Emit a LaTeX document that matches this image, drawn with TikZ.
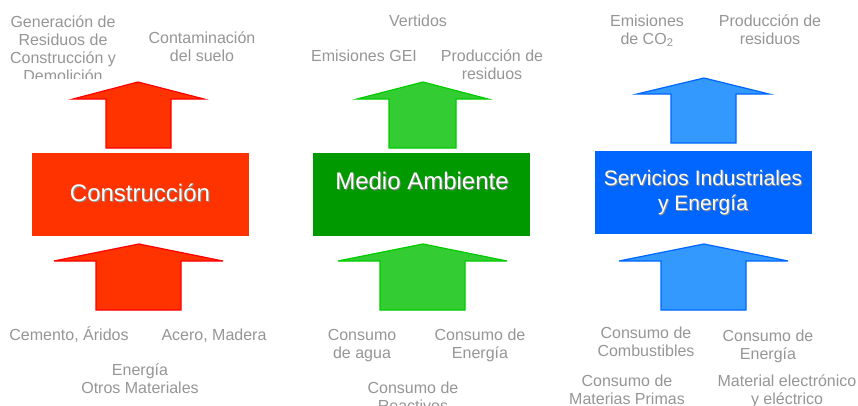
\documentclass[tikz,border=0pt]{standalone}
\usepackage{fontspec}
\setmainfont{Liberation Sans}
\definecolor{txtgray}{RGB}{150,150,150}
\definecolor{redfill}{RGB}{255,51,0}
\definecolor{redline}{RGB}{255,0,0}
\definecolor{greenfill}{RGB}{51,204,51}
\definecolor{greenline}{RGB}{0,204,0}
\definecolor{greenbox}{RGB}{0,153,0}
\definecolor{bluefill}{RGB}{51,153,255}
\definecolor{blueline}{RGB}{0,102,255}
\definecolor{bluebox}{RGB}{0,102,255}
\tikzset{
  lbl/.style={anchor=base, text=txtgray, inner sep=0pt, font=\fontsize{16}{18}\selectfont},
  sector/.style={draw=none, inner sep=0pt, minimum width=217pt, minimum height=83pt},
  boxtxt/.style={anchor=base, text=white, inner sep=0pt},
  boxshadow/.style={anchor=base, text=black!45, inner sep=0pt},
  redarrow/.style={fill=redfill, draw=redline, line width=1.2pt, line join=miter},
  greenarrow/.style={fill=greenfill, draw=greenline, line width=1.2pt, line join=miter},
  bluearrow/.style={fill=bluefill, draw=blueline, line width=1.2pt, line join=miter},
}
\begin{document}
\begin{tikzpicture}[x=1pt,y=-1pt]
\clip (0,0) rectangle (858,405);
\fill[white] (0,0) rectangle (858,405);

% ---------- Construccion ----------
\draw[redarrow] (138,82) -- (204,99) -- (171,99) -- (171,148) -- (106,148) -- (106,99) -- (73,99) -- cycle;
\node[sector, fill=redfill] (constr) at (140.5,194.5) {};
\draw[redarrow] (139,244) -- (223,261) -- (181,261) -- (181,310) -- (96,310) -- (96,261) -- (54,261) -- cycle;
\node[boxshadow, font=\fontsize{24}{28}\selectfont] (constrS) at (141,202.5) {Construcción};
\node[boxtxt, font=\fontsize{24}{28}\selectfont] (constrT) at (140,201.5) {Construcción};

\node[lbl] (rt1) at (63,27) {Generación de};
\node[lbl] (rt2) at (63,45) {Residuos de};
\node[lbl] (rt3) at (63,63) {Construcción y};
\begin{scope}
  \clip (0,0) rectangle (140,78);
  \node[lbl] (rt4) at (63,81) {Demolición};
\end{scope}
\node[lbl] (rt5) at (202,43) {Contaminación};
\node[lbl] (rt6) at (202,61) {del suelo};

\node[lbl] (rb1) at (69,340) {Cemento, Áridos};
\node[lbl] (rb2) at (214,340) {Acero, Madera};
\node[lbl] (rb3) at (140,375) {Energía};
\node[lbl] (rb4) at (140,393) {Otros Materiales};

% ---------- Medio Ambiente ----------
\draw[greenarrow] (423,82) -- (488,99) -- (456,99) -- (456,148) -- (389,148) -- (389,99) -- (357,99) -- cycle;
\node[sector, fill=greenbox] (medio) at (421.5,194.5) {};
\draw[greenarrow] (423,244) -- (507,261) -- (465,261) -- (465,310) -- (380,310) -- (380,261) -- (338,261) -- cycle;
\node[boxshadow, font=\fontsize{24}{28}\selectfont] (medioS) at (423,190.5) {Medio Ambiente};
\node[boxtxt, font=\fontsize{24}{28}\selectfont] (medioT) at (422,189.5) {Medio Ambiente};

\node[lbl] (gt1) at (418,26) {Vertidos};
\node[lbl] (gt2) at (364,61) {Emisiones GEI};
\node[lbl] (gt3) at (492,61) {Producción de};
\node[lbl] (gt4) at (492,79) {residuos};

\node[lbl] (gb1) at (362,340) {Consumo};
\node[lbl] (gb2) at (362,358) {de agua};
\node[lbl] (gb3) at (480,340) {Consumo de};
\node[lbl] (gb4) at (480,358) {Energía};
\node[lbl] (gb5) at (413,393) {Consumo de};
\node[lbl] (gb6) at (413,411) {Reactivos};

% ---------- Servicios Industriales ----------
\draw[bluearrow] (704,78) -- (769,94) -- (736,94) -- (736,143) -- (671,143) -- (671,94) -- (637,94) -- cycle;
\node[sector, fill=bluebox] (serv) at (703.5,192) {};
\draw[bluearrow] (704,244) -- (788,261) -- (746,261) -- (746,310) -- (661,310) -- (661,261) -- (619,261) -- cycle;
\node[boxshadow, font=\fontsize{21}{25}\selectfont] (servS1) at (704,186.5) {Servicios Industriales};
\node[boxtxt, font=\fontsize{21}{25}\selectfont] (servT1) at (703,185.5) {Servicios Industriales};
\node[boxshadow, font=\fontsize{21}{25}\selectfont] (servS2) at (704,211.5) {y Energía};
\node[boxtxt, font=\fontsize{21}{25}\selectfont] (servT2) at (703,210.5) {y Energía};

\node[lbl] (bt1) at (647,26) {Emisiones};
\node[lbl] (bt2) at (647,44) {de CO\textsubscript{2}};
\node[lbl] (bt3) at (770,26) {Producción de};
\node[lbl] (bt4) at (770,44) {residuos};

\node[lbl] (bb1) at (646,338) {Consumo de};
\node[lbl] (bb2) at (646,356) {Combustibles};
\node[lbl] (bb3) at (768,341) {Consumo de};
\node[lbl] (bb4) at (768,359) {Energía};
\node[lbl] (bb5) at (627,386) {Consumo de};
\node[lbl] (bb6) at (627,404) {Materias Primas};
\node[lbl] (bb7) at (787,386) {Material electrónico};
\node[lbl] (bb8) at (787,404) {y eléctrico};
\end{tikzpicture}
\end{document}
